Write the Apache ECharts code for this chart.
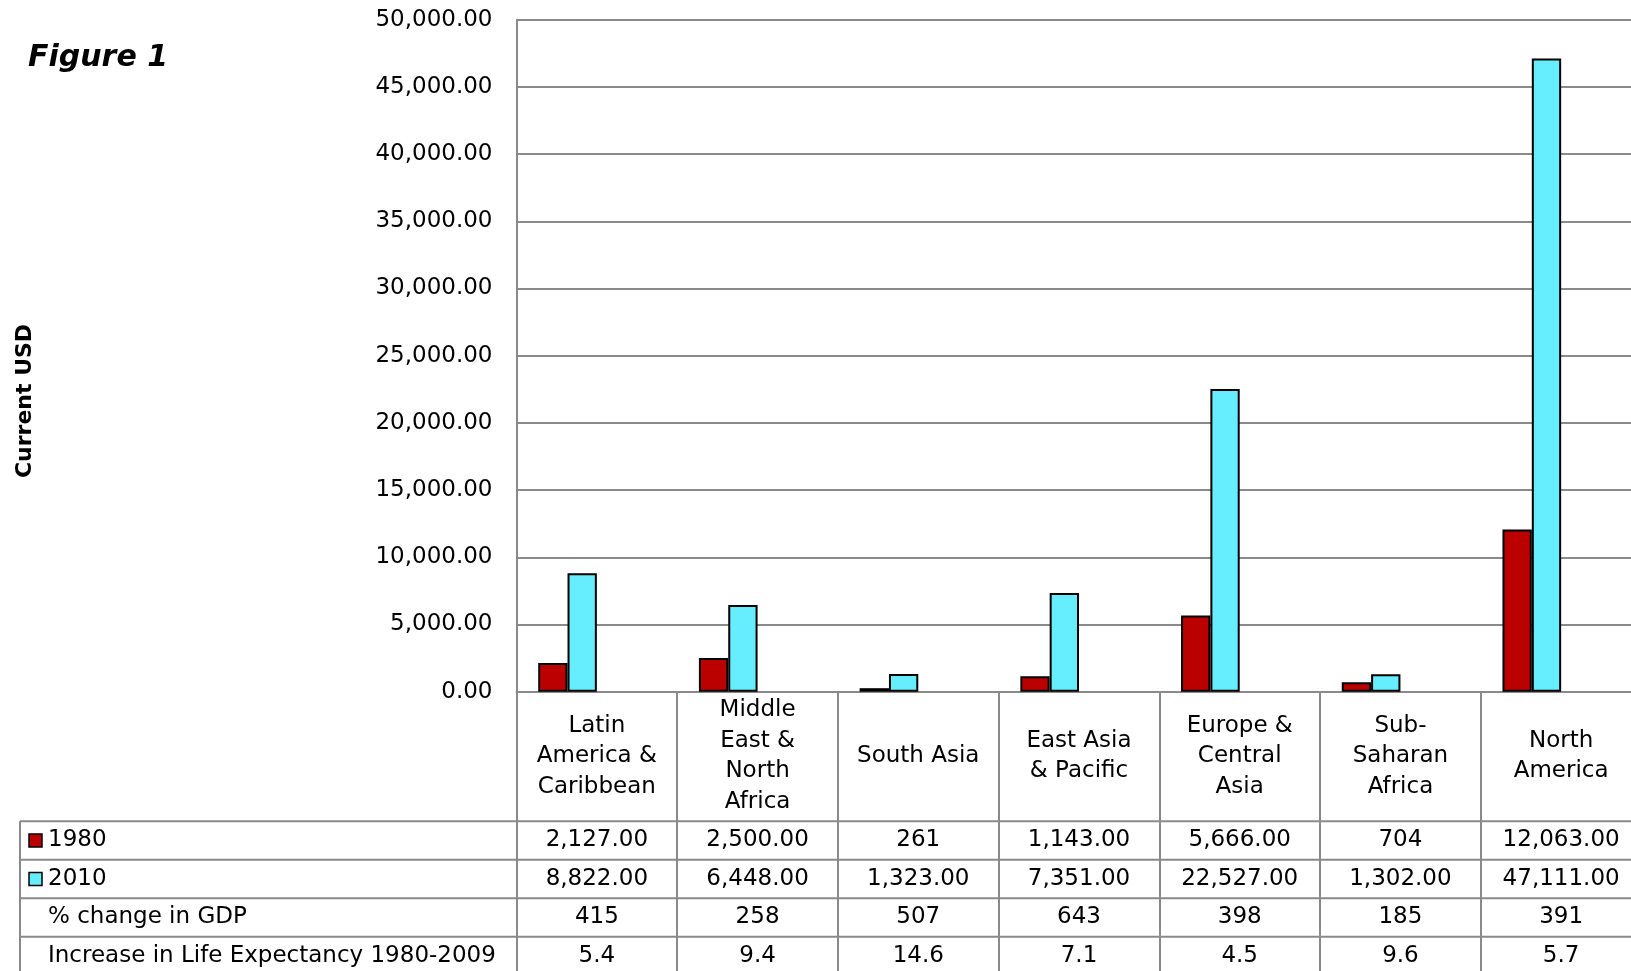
<!DOCTYPE html>
<html>
<head>
<meta charset="utf-8">
<script src="https://cdn.jsdelivr.net/npm/echarts@6/dist/echarts.min.js"></script>
<style>
html, body { margin: 0; padding: 0; background: #ffffff; overflow: hidden; width: 1631px; height: 971px; }
#chart { width: 1680px; height: 971px; }
</style>
</head>
<body>
<div id="chart"></div>
<script>
// ---------------- data ----------------
const categories = [
  'Latin America & Caribbean', 'Middle East & North Africa', 'South Asia',
  'East Asia & Pacific', 'Europe & Central Asia', 'Sub-Saharan Africa', 'North America'
];
const categoryTickLabels = [
  'Latin\nAmerica &\nCaribbean', 'Middle\nEast &\nNorth\nAfrica', 'South Asia',
  'East Asia\n& Pacific', 'Europe &\nCentral\nAsia', 'Sub-\nSaharan\nAfrica', 'North\nAmerica'
];
const seriesNames = ['1980', '2010', '% change in GDP', 'Increase in Life Expectancy 1980-2009'];
const gdp1980Text = ['2,127.00', '2,500.00', '261', '1,143.00', '5,666.00', '704', '12,063.00'];
const gdp2010Text = ['8,822.00', '6,448.00', '1,323.00', '7,351.00', '22,527.00', '1,302.00', '47,111.00'];
const gdpChangeText = ['415', '258', '507', '643', '398', '185', '391'];
const lifeExpText = ['5.4', '9.4', '14.6', '7.1', '4.5', '9.6', '5.7'];
const yMin = 0, yMax = 50000, yInterval = 5000;
const titleText = 'Figure 1';
const yAxisTitle = 'Current USD';

const toNum = s => parseFloat(s.replace(/,/g, ''));
const gdp1980 = gdp1980Text.map(toNum);
const gdp2010 = gdp2010Text.map(toNum);
const gdpChange = gdpChangeText.map(toNum);
const lifeExp = lifeExpText.map(toNum);
const tableRows = [gdp1980Text, gdp2010Text, gdpChangeText, lifeExpText];

// ---------------- style ----------------
const FONT = '"DejaVu Sans", "Liberation Sans", sans-serif';
const GRAY = '#8a8a8a';
const COLORS = ['#bb0000', '#66eeff'];

const chart = echarts.init(document.getElementById('chart'), null, { renderer: 'canvas' });

const barSeries = (name, data, color, visible) => ({
  name: name,
  type: 'bar',
  data: data,
  barGap: '0%',
  barCategoryGap: '27%',
  silent: !visible,
  itemStyle: visible
    ? { color: color, borderColor: '#000', borderWidth: 2 }
    : { color: 'rgba(0,0,0,0)', borderWidth: 0 },
  emphasis: { disabled: true }
});

chart.setOption({
  animation: false,
  backgroundColor: '#ffffff',
  grid: { left: 516.5, top: 19.7, width: 1125, height: 672, containLabel: false },
  xAxis: {
    type: 'category',
    data: categories,
    boundaryGap: true,
    axisLine: { show: true, lineStyle: { color: GRAY, width: 2 } },
    axisTick: { show: true, interval: 0, length: 300, lineStyle: { color: GRAY, width: 2 } },
    axisLabel: {
      interval: 0,
      margin: 64.5,
      verticalAlign: 'middle',
      align: 'center',
      fontFamily: FONT,
      fontSize: 23,
      lineHeight: 30.5,
      color: '#000',
      formatter: (v, i) => categoryTickLabels[i]
    },
    splitLine: { show: false }
  },
  yAxis: {
    type: 'value',
    min: yMin,
    max: yMax,
    interval: yInterval,
    axisLine: { show: true, lineStyle: { color: GRAY, width: 2 } },
    axisTick: { show: false },
    axisLabel: {
      margin: 24,
      fontFamily: FONT,
      fontSize: 23,
      color: '#000',
      formatter: v => v.toLocaleString('en-US', { minimumFractionDigits: 2, maximumFractionDigits: 2 })
    },
    splitLine: { show: true, lineStyle: { color: GRAY, width: 2 } }
  },
  series: [
    barSeries(seriesNames[0], gdp1980, COLORS[0], true),
    barSeries(seriesNames[1], gdp2010, COLORS[1], true),
    barSeries(seriesNames[2], gdpChange, null, false),
    barSeries(seriesNames[3], lifeExp, null, false)
  ]
});

// ---------------- data table & texts ----------------
const cx = i => chart.convertToPixel({ xAxisIndex: 0 }, i);
const band = cx(1) - cx(0);
const plotRight = cx(categories.length - 1) + band / 2;
const y0 = chart.convertToPixel({ yAxisIndex: 0 }, 0);
const headerH = 129.5;
const rowH = 38.5;
const tableLeft = 20;
const rowTop = r => y0 + headerH + r * rowH;

const graphics = [];
graphics.push({
  type: 'text', x: 28, y: 58,
  style: { text: titleText, fontFamily: FONT, fontSize: 30, fontWeight: 'bold', fontStyle: 'italic',
           fill: '#000', align: 'left', verticalAlign: 'middle' }
});
graphics.push({
  type: 'text', x: 25, y: 401, rotation: Math.PI / 2,
  style: { text: yAxisTitle, fontFamily: FONT, fontSize: 22, fontWeight: 'bold',
           fill: '#000', align: 'center', verticalAlign: 'middle' }
});
for (let r = 0; r <= tableRows.length; r++) {
  graphics.push({
    type: 'line', silent: true,
    shape: { x1: tableLeft, y1: rowTop(r), x2: plotRight, y2: rowTop(r) },
    style: { stroke: GRAY, lineWidth: 2 }
  });
}
graphics.push({
  type: 'line', silent: true,
  shape: { x1: tableLeft, y1: rowTop(0), x2: tableLeft, y2: rowTop(tableRows.length) },
  style: { stroke: GRAY, lineWidth: 2 }
});
tableRows.forEach((row, r) => {
  const yc = rowTop(r) + rowH / 2;
  if (r < COLORS.length) {
    graphics.push({
      type: 'rect', silent: true,
      shape: { x: 29, y: yc - 6.5, width: 13, height: 13 },
      style: { fill: COLORS[r], stroke: '#000', lineWidth: 1.5 }
    });
  }
  graphics.push({
    type: 'text', x: 48, y: yc,
    style: { text: seriesNames[r], fontFamily: FONT, fontSize: 23, fill: '#000',
             align: 'left', verticalAlign: 'middle' }
  });
  row.forEach((t, i) => {
    graphics.push({
      type: 'text', x: cx(i), y: yc,
      style: { text: t, fontFamily: FONT, fontSize: 23, fill: '#000',
               align: 'center', verticalAlign: 'middle' }
    });
  });
});

chart.setOption({ graphic: graphics });
</script>
</body>
</html>
